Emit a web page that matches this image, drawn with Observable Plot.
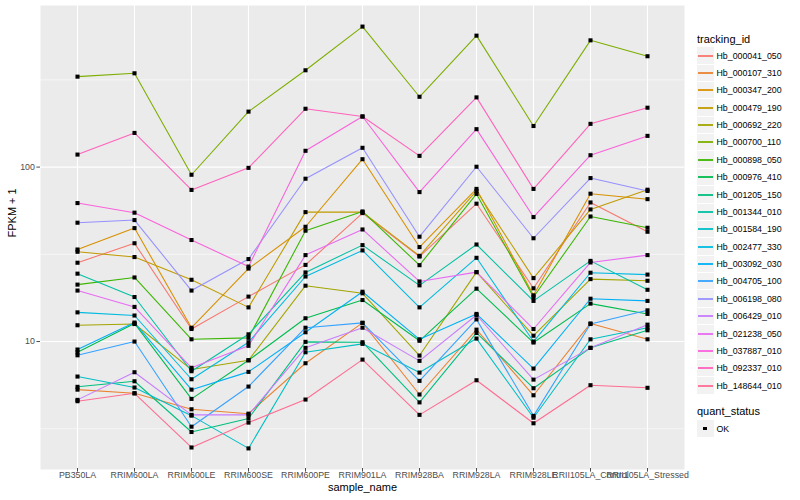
<!DOCTYPE html>
<html><head><meta charset="utf-8">
<script src="https://cdn.jsdelivr.net/npm/d3@7"></script>
<script src="https://cdn.jsdelivr.net/npm/@observablehq/plot@0.6"></script>
<style>
body{margin:0;background:#fff;font-family:"Liberation Sans",Arial,sans-serif;}
#wrap{position:relative;width:800px;height:500px;overflow:hidden;}
.lg{position:absolute;white-space:nowrap;color:#000;}
</style></head><body><div id="wrap"></div>
<script>
const samples = ["PB350LA","RRIM600LA","RRIM600LE","RRIM600SE","RRIM600PE","RRIM901LA","RRIM928BA","RRIM928LA","RRIM928LE","RRII105LA_Control","RRII105LA_Stressed"];
const trackingIds = ["Hb_000041_050","Hb_000107_310","Hb_000347_200","Hb_000479_190","Hb_000692_220","Hb_000700_110","Hb_000898_050","Hb_000976_410","Hb_001205_150","Hb_001344_010","Hb_001584_190","Hb_002477_330","Hb_003092_030","Hb_004705_100","Hb_006198_080","Hb_006429_010","Hb_021238_050","Hb_037887_010","Hb_092337_010","Hb_148644_010"];
const colors = ["#F8766D","#EA8331","#D89000","#C09B00","#A3A500","#7CAE00","#39B600","#00BB4E","#00BF7D","#00C1A3","#00BFC4","#00BAE0","#00B0F6","#35A2FF","#9590FF","#C77CFF","#E76BF3","#FA62DB","#FF62BC","#FF6C91"];
const quantStatus = ["OK"];
const yTicks = [10, 100];

// FPKM + 1 per sample, in the order of samples
const hb_000041_050 = [28.3, 36.6, 11.8, 18.1, 27.5, 54.5, 30.7, 61.7, 20.2, 62.7, 42.6];
const hb_000107_310 = [5.30, 5.05, 4.09, 3.86, 7.51, 12.8, 4.97, 11.7, 4.92, 12.7, 10.3];
const hb_000347_200 = [33.7, 44.7, 12.0, 26.2, 45.5, 111, 34.8, 75.0, 18.4, 70.4, 65.5];
const hb_000479_190 = [32.7, 30.5, 22.6, 15.7, 55.2, 55.2, 31.0, 73.0, 23.1, 57.2, 74.2];
const hb_000692_220 = [12.4, 12.6, 6.91, 7.81, 20.9, 18.9, 8.31, 25.0, 10.8, 22.8, 22.3];
const hb_000700_110 = [330, 345, 90.4, 208, 359, 639, 253, 567, 172, 533, 432];
const hb_000898_050 = [21.2, 23.3, 10.3, 10.5, 43.2, 55.7, 27.4, 70.2, 18.0, 52.1, 44.9];
const hb_000976_410 = [8.68, 12.7, 4.69, 7.81, 13.6, 17.3, 10.1, 20.1, 9.87, 16.5, 14.4];
const hb_001205_150 = [5.50, 5.92, 3.03, 3.62, 9.96, 9.91, 4.48, 11.2, 5.40, 9.20, 11.6];
const hb_001344_010 = [24.5, 18.0, 6.76, 11.0, 24.9, 35.7, 21.0, 36.0, 17.1, 29.0, 19.8];
const hb_001584_190 = [6.30, 5.45, 3.76, 2.44, 8.68, 9.70, 6.64, 10.4, 3.66, 10.3, 12.0];
const hb_002477_330 = [14.7, 14.1, 6.08, 9.91, 23.6, 33.3, 15.7, 30.2, 10.0, 24.8, 24.2];
const hb_003092_030 = [9.00, 12.85, 5.30, 6.70, 11.3, 19.3, 10.3, 14.4, 7.00, 17.6, 17.1];
const hb_004705_100 = [8.34, 10.0, 3.25, 5.52, 12.0, 12.8, 5.95, 13.4, 3.75, 12.6, 15.1];
const hb_006198_080 = [48.0, 49.7, 19.6, 29.7, 85.8, 129, 39.9, 100.5, 39.1, 86.5, 73.0];
const hb_006429_010 = [4.63, 6.67, 3.80, 3.80, 9.20, 12.0, 7.75, 14.2, 6.05, 9.20, 12.5];
const hb_021238_050 = [19.6, 15.8, 7.07, 9.45, 31.3, 43.9, 22.1, 25.0, 11.8, 28.4, 31.3];
const hb_037887_010 = [62.2, 54.8, 38.2, 26.9, 124, 195, 71.9, 165, 51.7, 117, 151];
const hb_092337_010 = [118, 157, 74, 99, 216, 195, 116, 251, 75, 177, 219];
const hb_148644_010 = [4.55, 5.05, 2.47, 3.43, 4.65, 7.88, 3.80, 6.00, 3.40, 5.62, 5.43];

const seriesValues = [hb_000041_050, hb_000107_310, hb_000347_200, hb_000479_190, hb_000692_220, hb_000700_110, hb_000898_050, hb_000976_410, hb_001205_150, hb_001344_010, hb_001584_190, hb_002477_330, hb_003092_030, hb_004705_100, hb_006198_080, hb_006429_010, hb_021238_050, hb_037887_010, hb_092337_010, hb_148644_010];

const rows = [];
trackingIds.forEach((id, i) => seriesValues[i].forEach((v, j) =>
  rows.push({tracking_id: id, sample_name: samples[j], fpkm1: v, quant_status: quantStatus[0]})));

const logs = rows.map(d => Math.log10(d.fpkm1));
const lo = d3.min(logs), hi = d3.max(logs), pad = (hi - lo) * 0.05;
const yDomain = [10 ** (lo - pad), 10 ** (hi + pad)];
const minorTicks = [10 ** 0.5, 10 ** 1.5, 10 ** 2.5];

const chart = Plot.plot({
  width: 800, height: 500,
  marginLeft: 40, marginRight: 116, marginTop: 5, marginBottom: 31,
  style: {fontFamily: "Liberation Sans, Arial, sans-serif", background: "#fff", overflow: "visible"},
  x: {type: "point", domain: samples, padding: 0.6, label: null},
  y: {type: "log", domain: yDomain, label: null},
  color: {domain: trackingIds, range: colors},
  marks: [
    Plot.frame({fill: "#EBEBEB", stroke: null}),
    Plot.gridY(minorTicks, {stroke: "#fff", strokeOpacity: 1, strokeWidth: 0.55}),
    Plot.gridY(yTicks, {stroke: "#fff", strokeOpacity: 1, strokeWidth: 1.1}),
    Plot.gridX(samples, {stroke: "#fff", strokeOpacity: 1, strokeWidth: 1.1}),
    Plot.axisY(yTicks, {tickSize: 3.6, tickPadding: 2, fontSize: 8.8, color: "#4D4D4D", tickFormat: d => String(d), label: null}),
    Plot.axisX(samples, {tickSize: 3.6, tickPadding: 0, dy: -1, fontSize: 8.8, color: "#4D4D4D", label: null}),
    Plot.line(rows, {x: "sample_name", y: "fpkm1", z: "tracking_id", stroke: "tracking_id", strokeWidth: 1.07}),
    Plot.dot(rows, {x: "sample_name", y: "fpkm1", symbol: "square", r: 2.3, fill: "black", stroke: null}),
    Plot.text(["FPKM + 1"], {frameAnchor: "left", dx: -28, rotate: -90, fontSize: 11, fill: "black"}),
    Plot.text(["sample_name"], {frameAnchor: "bottom", dy: 21, fontSize: 11, fill: "black"})
  ]
});
const wrap = document.getElementById("wrap");
wrap.appendChild(chart);

// legend (HTML, to the right of the panel)
function add(html, style) {
  const d = document.createElement("div");
  d.className = "lg";
  Object.assign(d.style, style);
  d.innerHTML = html;
  wrap.appendChild(d);
  return d;
}
add("tracking_id", {left: "697px", top: "33px", fontSize: "11px", lineHeight: "13px"});
const step = 17.37, y0 = 47.2;
trackingIds.forEach((id, i) => {
  const top = y0 + i * step;
  add("", {left: "697px", top: top + "px", width: "17px", height: "16.4px", background: "#F2F2F2"});
  add("", {left: "698px", top: Math.round(top + 7.4) + "px", width: "15px", height: "2px", background: colors[i], opacity: 0.9});
  add(id, {left: "716.5px", top: (top + 3.4) + "px", fontSize: "8.8px", lineHeight: "10px"});
});
add("quant_status", {left: "697px", top: "405px", fontSize: "11px", lineHeight: "13px"});
add("", {left: "697px", top: "420px", width: "17px", height: "17px", background: "#F2F2F2"});
add("", {left: "703.2px", top: "426.7px", width: "3.8px", height: "3.8px", background: "#000"});
add(quantStatus[0], {left: "716.5px", top: "423.7px", fontSize: "8.8px", lineHeight: "10px"});
</script></body></html>
